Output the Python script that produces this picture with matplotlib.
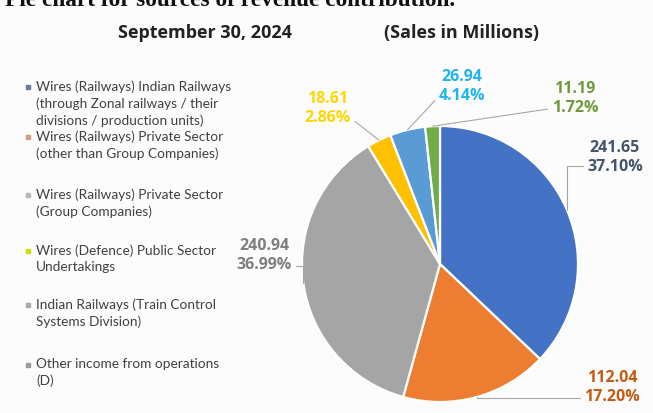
import numpy as np
import matplotlib
matplotlib.use("Agg")
import matplotlib.pyplot as plt
from matplotlib.lines import Line2D

# ---------------- data ----------------
categories = [
    "Wires (Railways) Indian Railways\n(through Zonal railways / their\ndivisions / production units)",
    "Wires (Railways) Private Sector\n(other than Group Companies)",
    "Wires (Railways) Private Sector\n(Group Companies)",
    "Wires (Defence) Public Sector\nUndertakings",
    "Indian Railways (Train Control\nSystems Division)",
    "Other income from operations\n(D)",
]
sales = [241.65, 112.04, 240.94, 18.61, 26.94, 11.19]
percent_labels = ["37.10%", "17.20%", "36.99%", "2.86%", "4.14%", "1.72%"]
value_labels = ["241.65", "112.04", "240.94", "18.61", "26.94", "11.19"]

slice_colors = ["#4472C4", "#ED7D31", "#A5A5A5", "#FFC000", "#5B9BD5", "#70AD47"]
label_colors = ["#44546A", "#C55A11", "#7F7F7F", "#FFD700", "#1FB5EE", "#6F9A3A"]
legend_marker_colors = ["#6b7aa0", "#d0a080", "#b8b8b8", "#c8e400", "#aaaaaa", "#9a9a9a"]

# ---------------- layout ----------------
W, H = 653, 414
DPI = 100
fig = plt.figure(figsize=(W / DPI, H / DPI), dpi=DPI)
fig.patch.set_facecolor("#fcfcfc")

cx, cy, r = 440, 265, 138  # pie center (pixels from top-left) and radius
ax = fig.add_axes([(cx - r) / W, (H - cy - r) / H, 2 * r / W, 2 * r / H])
wedges, _ = ax.pie(sales, colors=slice_colors, startangle=90, counterclock=False,
                   wedgeprops=dict(edgecolor="white", linewidth=1.6))
ax.set_xlim(-1, 1)
ax.set_ylim(-1, 1)
ax.set_aspect("equal")
ax.axis("off")

# title (cut off at the top in the source)
fig.text(5 / W, 1 - 6 / H, "Pie chart for sources of revenue contribution.",
         family="Liberation Serif", weight="bold", fontsize=16.8, color="#111111",
         ha="left", va="baseline")

fig.text(205 / W, 1 - 33 / H, "September 30, 2024", family="Open Sans", weight="bold",
         fontsize=13, color="#222222", ha="center", va="center")
fig.text(462 / W, 1 - 33 / H, "(Sales in Millions)", family="Open Sans", weight="bold",
         fontsize=13, color="#222222", ha="center", va="center")

# data labels: text centers in pixels (from top-left)
label_pos = [(615, 158), (612, 388), (264, 256), (328, 109), (462, 87), (575, 99)]
conn_styles = ["angle,angleA=0,angleB=90,rad=0", "angle,angleA=0,angleB=90,rad=0",
               "angle,angleA=0,angleB=90,rad=0", "arc3,rad=0", "arc3,rad=0", "arc3,rad=0"]
relpos = [(0, 0.25), (0, 0.2), (1, 0.2), (1, 0.2), (0, 0.2), (0, 0.2)]
for w, v, p, c, (tx, ty), cs, rp in zip(wedges, value_labels, percent_labels,
                                         label_colors, label_pos, conn_styles, relpos):
    mid = np.deg2rad((w.theta1 + w.theta2) / 2)
    ax.annotate(f"{v}\n{p}", xy=(np.cos(mid), np.sin(mid)), xycoords="data",
                xytext=(tx, H - ty), textcoords="figure pixels",
                ha="center", va="center", fontsize=11.5, weight="bold",
                family="Open Sans", color=c, linespacing=1.25,
                arrowprops=dict(arrowstyle="-", color="#a6a6a6", lw=0.8,
                                connectionstyle=cs, relpos=rp,
                                shrinkA=1, shrinkB=0))

# legend (manual)
legend_y = [88, 138, 196, 252, 306, 366]
for lab, mc, y in zip(categories, legend_marker_colors, legend_y):
    fig.add_artist(Line2D([28 / W], [1 - y / H], marker="s", markersize=3.2,
                          color=mc, linestyle="none", transform=fig.transFigure))
    fig.text(36 / W, 1 - (y - 8) / H, lab, family="Lato", fontsize=9.8,
             color="#404040", ha="left", va="top", linespacing=1.45)

fig.savefig("out.png", dpi=DPI, facecolor=fig.get_facecolor())
